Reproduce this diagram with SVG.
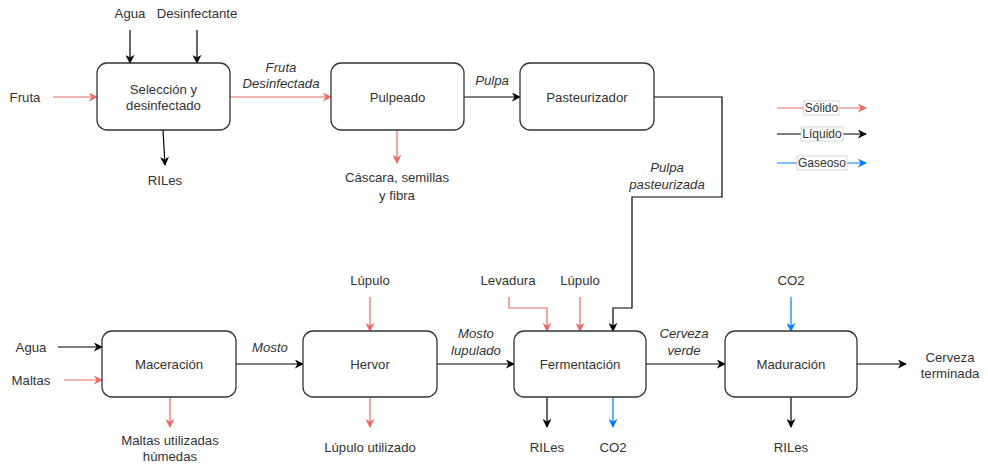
<svg xmlns="http://www.w3.org/2000/svg" width="988" height="466" viewBox="0 0 988 466">
  <style>
    .box { fill: #ffffff; stroke: #333333; stroke-width: 1.3; }
    .t { font-family: "Liberation Sans", Arial, sans-serif; font-size: 13.2px; fill: #333333; text-anchor: middle; dominant-baseline: central; }
    .i { font-style: italic; }
    .lg { font-size: 12px; }
    .k { fill: none; stroke: #000000; stroke-width: 1.2; }
    .r { fill: none; stroke: #EA6B66; stroke-width: 1.2; }
    .b { fill: none; stroke: #007FFF; stroke-width: 1.2; }
    .lgbox { fill: #ffffff; stroke: #cccccc; stroke-width: 0.8; }
  </style>
  <defs>
    <marker id="ak" viewBox="0 0 10 10" refX="9" refY="5" markerWidth="9" markerHeight="9" markerUnits="userSpaceOnUse" orient="auto">
      <path d="M0,0 L10,5 L0,10 L3,5 Z" fill="#000000"/>
    </marker>
    <marker id="ar" viewBox="0 0 10 10" refX="9" refY="5" markerWidth="9" markerHeight="9" markerUnits="userSpaceOnUse" orient="auto">
      <path d="M0,0 L10,5 L0,10 L3,5 Z" fill="#EA6B66"/>
    </marker>
    <marker id="ab" viewBox="0 0 10 10" refX="9" refY="5" markerWidth="9" markerHeight="9" markerUnits="userSpaceOnUse" orient="auto">
      <path d="M0,0 L10,5 L0,10 L3,5 Z" fill="#007FFF"/>
    </marker>
  </defs>

  <!-- connectors -->
  <g id="connectors">
    <!-- top row -->
    <path class="k" d="M130,30 V63" marker-end="url(#ak)"/>
    <path class="k" d="M197,30 V63" marker-end="url(#ak)"/>
    <path class="r" d="M53,97 H97" marker-end="url(#ar)"/>
    <path class="r" d="M230,97 H331" marker-end="url(#ar)"/>
    <path class="k" d="M163,130 L165,165" marker-end="url(#ak)"/>
    <path class="r" d="M397,130 V163" marker-end="url(#ar)"/>
    <path class="k" d="M464,97 H520" marker-end="url(#ak)"/>
    <path class="k" d="M654,97 H722 V197 H632 V308 H613 V331" marker-end="url(#ak)"/>
    <!-- bottom row -->
    <path class="k" d="M58,347 H102" marker-end="url(#ak)"/>
    <path class="r" d="M64,380 H102" marker-end="url(#ar)"/>
    <path class="k" d="M236,364 H303" marker-end="url(#ak)"/>
    <path class="k" d="M437,364 H514" marker-end="url(#ak)"/>
    <path class="k" d="M646,364 H725" marker-end="url(#ak)"/>
    <path class="k" d="M857,364 H906" marker-end="url(#ak)"/>
    <path class="r" d="M370,297 V331" marker-end="url(#ar)"/>
    <path class="r" d="M509,297 V308 H547 V331" marker-end="url(#ar)"/>
    <path class="r" d="M580,297 V331" marker-end="url(#ar)"/>
    <path class="b" d="M791,297 V331" marker-end="url(#ab)"/>
    <path class="r" d="M170,397 V427" marker-end="url(#ar)"/>
    <path class="r" d="M370,397 V427" marker-end="url(#ar)"/>
    <path class="k" d="M547,397 V427" marker-end="url(#ak)"/>
    <path class="b" d="M613,397 V427" marker-end="url(#ab)"/>
    <path class="k" d="M791,397 V427" marker-end="url(#ak)"/>
  </g>

  <!-- connector labels and stream names -->
  <g id="labels">
    <text class="t" x="130" y="13">Agua</text>
    <text class="t" x="197" y="13">Desinfectante</text>
    <text class="t" x="25" y="97">Fruta</text>
    <text class="t i" x="281" y="67">Fruta</text>
    <text class="t i" x="281" y="83">Desinfectada</text>
    <text class="t" x="165" y="180">RILes</text>
    <text class="t" x="397" y="177">Cáscara, semillas</text>
    <text class="t" x="397" y="195">y fibra</text>
    <text class="t i" x="492" y="80">Pulpa</text>
    <text class="t i" x="667" y="167">Pulpa</text>
    <text class="t i" x="667" y="184">pasteurizada</text>

    <text class="t" x="31" y="347">Agua</text>
    <text class="t" x="31" y="380">Maltas</text>
    <text class="t i" x="270" y="347">Mosto</text>
    <text class="t" x="370" y="280">Lúpulo</text>
    <text class="t i" x="476" y="333">Mosto</text>
    <text class="t i" x="476" y="350">lupulado</text>
    <text class="t" x="508" y="280">Levadura</text>
    <text class="t" x="580" y="280">Lúpulo</text>
    <text class="t i" x="684" y="333">Cerveza</text>
    <text class="t i" x="684" y="350">verde</text>
    <text class="t" x="791" y="280">CO2</text>
    <text class="t" x="950" y="357">Cerveza</text>
    <text class="t" x="950" y="373">terminada</text>
    <text class="t" x="170" y="440">Maltas utilizadas</text>
    <text class="t" x="170" y="456">húmedas</text>
    <text class="t" x="370" y="447">Lúpulo utilizado</text>
    <text class="t" x="547" y="447">RILes</text>
    <text class="t" x="613" y="447">CO2</text>
    <text class="t" x="791" y="447">RILes</text>
  </g>

  <!-- process nodes -->
  <g id="seleccion">
    <rect class="box" x="97" y="63" width="133" height="67" rx="10"/>
    <text class="t" x="163.5" y="89">Selección y</text>
    <text class="t" x="163.5" y="105">desinfectado</text>
  </g>
  <g id="pulpeado">
    <rect class="box" x="331" y="63" width="133" height="67" rx="10"/>
    <text class="t" x="397.5" y="97">Pulpeado</text>
  </g>
  <g id="pasteurizador">
    <rect class="box" x="520" y="63" width="134" height="67" rx="10"/>
    <text class="t" x="587" y="97">Pasteurizador</text>
  </g>
  <g id="maceracion">
    <rect class="box" x="102" y="331" width="134" height="66" rx="10"/>
    <text class="t" x="169" y="364">Maceración</text>
  </g>
  <g id="hervor">
    <rect class="box" x="303" y="331" width="134" height="66" rx="10"/>
    <text class="t" x="370" y="364">Hervor</text>
  </g>
  <g id="fermentacion">
    <rect class="box" x="514" y="331" width="132" height="66" rx="10"/>
    <text class="t" x="580" y="364">Fermentación</text>
  </g>
  <g id="maduracion">
    <rect class="box" x="725" y="331" width="132" height="66" rx="10"/>
    <text class="t" x="791" y="364">Maduración</text>
  </g>

  <!-- legend -->
  <g id="legend">
    <path class="r" d="M777,108 H866" marker-end="url(#ar)"/>
    <rect class="lgbox" x="804" y="101" width="35" height="14"/>
    <text class="t lg" x="821.5" y="108">Sólido</text>
    <path class="k" d="M777,134 H866" marker-end="url(#ak)"/>
    <rect class="lgbox" x="801" y="127" width="42" height="14"/>
    <text class="t lg" x="822" y="134">Líquido</text>
    <path class="b" d="M777,163 H866" marker-end="url(#ab)"/>
    <rect class="lgbox" x="797" y="156" width="50" height="14"/>
    <text class="t lg" x="822" y="163">Gaseoso</text>
  </g>
</svg>
